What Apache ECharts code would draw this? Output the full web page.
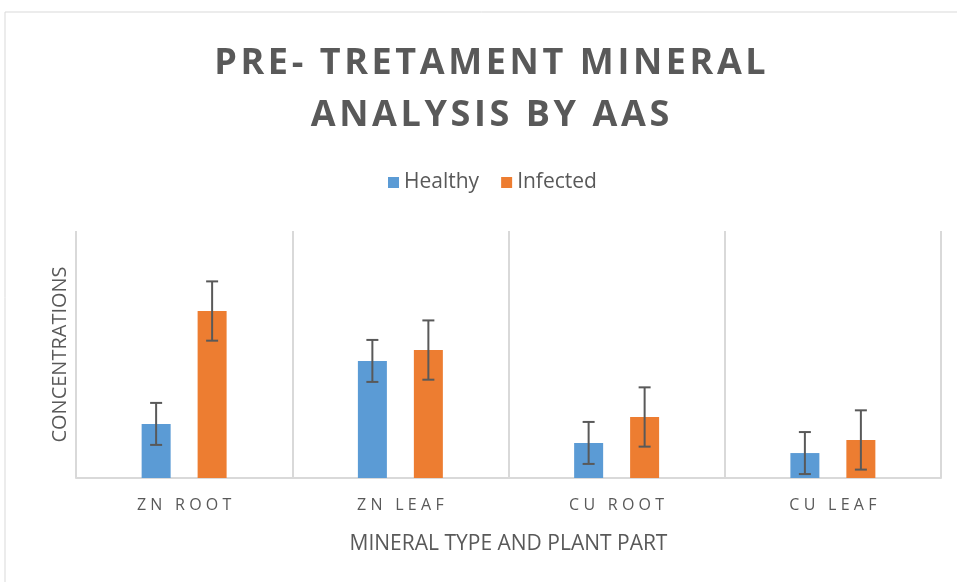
<!DOCTYPE html>
<html>
<head>
<meta charset="utf-8">
<title>Pre-treatment mineral analysis</title>
<script src="https://cdn.jsdelivr.net/npm/echarts@6/dist/echarts.min.js"></script>
<style>
  html, body { margin: 0; padding: 0; background: #fff; }
  #chart { width: 957px; height: 582px; }
</style>
</head>
<body>
<div id="chart"></div>
<script>
// data (y axis has no labels, so units are arbitrary)
const categories = ['ZN ROOT', 'ZN LEAF', 'CU ROOT', 'CU LEAF']
const healthy = [21.9, 47.4, 14.2, 10.1]
const infected = [67.6, 51.8, 24.7, 15.4]
const healthyErr = [8.5, 8.5, 8.5, 8.5]
const infectedErr = [12, 12, 12, 12]

const grey = '#595959'
const font = 'Open Sans'
const barW = 29
const barOffset = 28 // half distance between the two bar centres

// spread letters a little, like the wide tracking in the original
function spread(s, gap) {
  return s.split('\n').map(line => line.split('').join(gap)).join('\n')
}

function errorSeries(name, values, errs, offset) {
  return {
    name: name + ' error',
    type: 'custom',
    z: 10,
    data: values.map((v, i) => [i, v - errs[i], v + errs[i]]),
    renderItem: function (params, api) {
      const lo = api.coord([api.value(0), api.value(1)])
      const hi = api.coord([api.value(0), api.value(2)])
      const x = lo[0] + offset
      const cap = 6
      const style = { stroke: grey, lineWidth: 2 }
      return {
        type: 'group',
        children: [
          { type: 'line', shape: { x1: x, y1: hi[1], x2: x, y2: lo[1] }, style: style },
          { type: 'line', shape: { x1: x - cap, y1: hi[1], x2: x + cap, y2: hi[1] }, style: style },
          { type: 'line', shape: { x1: x - cap, y1: lo[1], x2: x + cap, y2: lo[1] }, style: style }
        ]
      }
    }
  }
}

const chart = echarts.init(document.getElementById('chart'))
chart.setOption({
  animation: false,
  textStyle: { fontFamily: font },
  graphic: [{
    type: 'rect',
    shape: { x: 5, y: 12, width: 960, height: 580 },
    style: { fill: 'none', stroke: '#d9d9d9', lineWidth: 1 },
    silent: true
  }],
  title: {
    text: spread('PRE- TRETAMENT MINERAL\nANALYSIS BY AAS', '\u200A'),
    left: 485,
    textAlign: 'center',
    top: 33,
    textStyle: {
      fontFamily: font,
      fontSize: 36,
      fontWeight: 'bold',
      color: grey,
      lineHeight: 52
    }
  },
  legend: {
    data: ['Healthy', 'Infected'],
    top: 167,
    left: 383,
    icon: 'rect',
    itemWidth: 11,
    itemHeight: 11,
    itemGap: 22,
    textStyle: { fontFamily: font, fontSize: 21, color: grey }
  },
  grid: { left: 76, right: 16, top: 231, bottom: 104 },
  xAxis: {
    type: 'category',
    data: categories,
    name: 'MINERAL TYPE AND PLANT PART',
    nameLocation: 'middle',
    nameGap: 56,
    nameTextStyle: { fontFamily: font, fontSize: 21, color: grey },
    axisLine: { lineStyle: { color: '#d9d9d9', width: 2 } },
    axisTick: { show: false },
    axisLabel: {
      margin: 19,
      fontSize: 16,
      color: grey,
      formatter: v => spread(v, '\u2009\u200A')
    },
    splitLine: { show: true, lineStyle: { color: '#d9d9d9', width: 2 } }
  },
  yAxis: {
    type: 'value',
    min: 0,
    max: 100,
    name: 'CONCENTRATIONS',
    nameLocation: 'middle',
    nameGap: 6,
    nameTextStyle: { fontFamily: font, fontSize: 20, color: grey },
    axisLine: { show: false },
    axisTick: { show: false },
    axisLabel: { show: false },
    splitLine: { show: false }
  },
  series: [
    {
      name: 'Healthy',
      type: 'bar',
      data: healthy,
      barWidth: barW,
      barGap: '93%',
      itemStyle: { color: '#5b9bd5' }
    },
    {
      name: 'Infected',
      type: 'bar',
      data: infected,
      barWidth: barW,
      itemStyle: { color: '#ed7d31' }
    },
    errorSeries('Healthy', healthy, healthyErr, -barOffset),
    errorSeries('Infected', infected, infectedErr, barOffset)
  ]
})
</script>
</body>
</html>
